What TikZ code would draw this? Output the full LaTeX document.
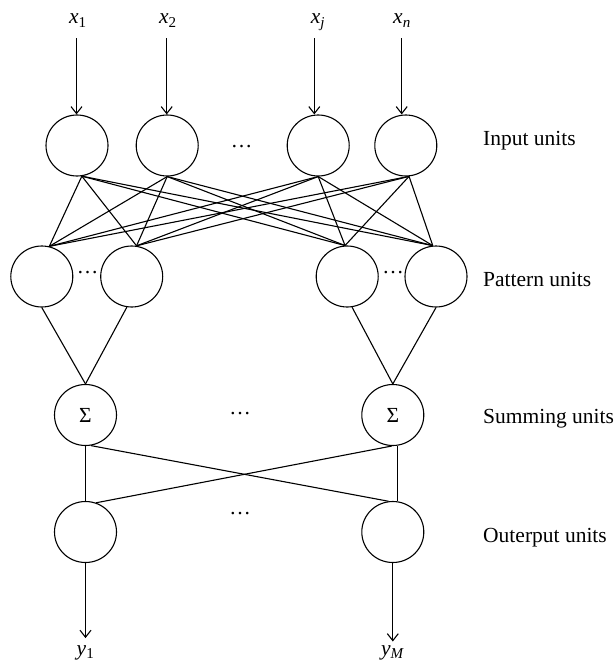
\documentclass[tikz,border=0pt]{standalone}
\usepackage{fontspec}
\setmainfont{Liberation Serif}
\usetikzlibrary{shapes.geometric,arrows.meta,calc}
\begin{document}
\begin{tikzpicture}[x=1pt,y=-1pt,
  unit/.style={ellipse, draw, line width=1.1pt, minimum width=62pt,
    minimum height=61pt, inner sep=0pt},
  link/.style={line width=1.1pt},
  arr/.style={line width=1.1pt, -{Straight Barb[length=7pt,width=11pt]}},
  lbl/.style={font=\fontsize{21.5}{24}\selectfont, inner sep=0pt},
  invar/.style={lbl, anchor=base, text depth=14.3pt},
  layer/.style={lbl, anchor=base west},
  dotsnode/.style={lbl, anchor=base}]
\useasboundingbox (0,0) rectangle (613,669);

% input units
\node[unit] (I1) at (77,145.5) {};
\node[unit] (I2) at (167.2,145.5) {};
\node[unit] (Ij) at (318.2,145.5) {};
\node[unit] (In) at (405.8,145.5) {};
\node[dotsnode] (dI) at (241.7,147) {\ldots};

% input variables
\node[invar] (x1) at (77.8,24) {\textit{x}\textsubscript{1}};
\node[invar] (x2) at (167.8,24) {\textit{x}\textsubscript{2}};
\node[invar] (xj) at (318,24) {\textit{x}\textsubscript{\textit{j}}};
\node[invar] (xn) at (402,24) {\textit{x}\textsubscript{\textit{n}}};

\draw[arr] ([xshift=-1.3pt]x1.south) -- ([xshift=-1.3pt]x1.south |- I1.north);
\draw[arr] ([xshift=-1.1pt]x2.south) -- ([xshift=-1.1pt]x2.south |- I2.north);
\draw[arr] ([xshift=-3.7pt]xj.south) -- ([xshift=-3.7pt]xj.south |- Ij.north);
\draw[arr] ([xshift=-0.3pt]xn.south) -- ([xshift=-0.3pt]xn.south |- In.north);

% pattern units
\node[unit] (P1) at (41.8,276.5) {};
\node[unit] (P2) at (131.7,276.5) {};
\node[unit] (P3) at (347.2,276.5) {};
\node[unit] (P4) at (436,276.5) {};
\node[dotsnode] (dP1) at (87.7,273) {\ldots};
\node[dotsnode] (dP2) at (393,273) {\ldots};

% every input unit feeds every pattern unit
\foreach \a in {I1.-81, I2.south, Ij.south, In.-84}
  \foreach \b in {P1.76, P2.81, P3.94, P4.96}
    \draw[link] (\a) -- (\b);

% summing units
\node[unit, lbl] (S1) at (85.5,415) {Σ};
\node[unit, lbl] (S2) at (392.8,415) {Σ};
\node[dotsnode] (dS) at (240,414.5) {\ldots};

\draw[link] (P1.south) -- (S1.north);
\draw[link] (P2.-99) -- (S1.north);
\draw[link] (P3.-81) -- (S2.north);
\draw[link] (P4.south) -- (S2.north);

% output units
\node[unit] (O1) at (85.5,532) {};
\node[unit] (O2) at (392.8,532) {};
\node[dotsnode] (dO) at (240,514) {\ldots};

\draw[link] (S1.south) -- (O1.north);
\draw[link] (S1.-80) -- (O2.98);
\draw[link] (S2.-92) -- (O1.70);
\draw[link] (S2.-82) -- (O2.82);

% outputs
\node[lbl, anchor=base, text height=16.7pt] (y1) at (85.5,655) {\textit{y}\textsubscript{1}};
\node[lbl, anchor=base, text height=13.3pt] (yM) at (392.8,655) {\textit{y}\textsubscript{\textit{M}}};
\draw[arr] (O1.south) -- (y1.north);
\draw[arr] (O2.south) -- (yM.north);

% layer names
\node[layer] (LI) at (483,145.7) {Input units};
\node[layer] (LP) at (483,286.7) {Pattern units};
\node[layer] (LS) at (483,423.3) {Summing units};
\node[layer] (LO) at (483,542.7) {Outerput units};
\end{tikzpicture}
\end{document}
